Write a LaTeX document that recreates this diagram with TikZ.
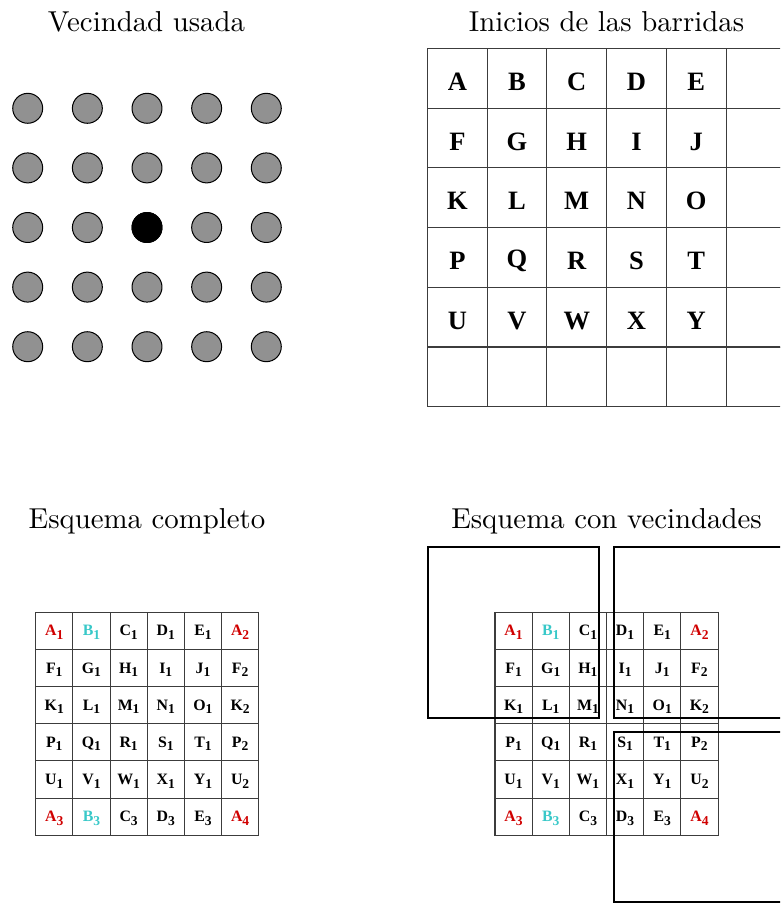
\documentclass[tikz,border=0pt]{standalone}
\usepackage{fontspec}
\newfontfamily\gridfont{Liberation Serif}
\definecolor{dotgray}{RGB}{145,145,145}
\definecolor{lred}{RGB}{208,0,0}
\definecolor{lcyan}{RGB}{56,200,200}
\definecolor{gline}{RGB}{60,60,60}
\newcommand\lsub[2]{#1\raisebox{-1.2pt}{\fontsize{4.7}{4.7}\selectfont #2}}
\tikzset{
  title/.style={anchor=base,inner sep=0pt,font=\fontsize{10}{12}\selectfont},
  dot/.style={circle,draw=black,line width=0.35pt,fill=dotgray,minimum size=10.4pt,inner sep=0pt},
  bigcell/.style={rectangle,draw=gline,line width=0.35pt,minimum size=20.72pt,inner sep=0pt},
  bigletter/.style={inner sep=0pt,font=\gridfont\bfseries\fontsize{9.2}{10}\selectfont},
  smallcell/.style={rectangle,draw=gline,line width=0.35pt,minimum size=12.9pt,inner sep=0pt,
    text height=3.5pt,text depth=0pt,font=\gridfont\bfseries\fontsize{5.5}{6}\selectfont},
  thickbox/.style={draw=black,line width=0.8pt}
}
\newcommand\drawsmallgrid[2]{%
  \foreach \t/\s/\c [count=\k from 0] in {
    A/1/lred,B/1/lcyan,C/1/black,D/1/black,E/1/black,A/2/lred,
    F/1/black,G/1/black,H/1/black,I/1/black,J/1/black,F/2/black,
    K/1/black,L/1/black,M/1/black,N/1/black,O/1/black,K/2/black,
    P/1/black,Q/1/black,R/1/black,S/1/black,T/1/black,P/2/black,
    U/1/black,V/1/black,W/1/black,X/1/black,Y/1/black,U/2/black,
    A/3/lred,B/3/lcyan,C/3/black,D/3/black,E/3/black,A/4/lred}{
    \pgfmathtruncatemacro\cc{mod(\k,6)}
    \pgfmathtruncatemacro\rr{div(\k,6)}
    \node[smallcell,text=\c] (#1-\cc-\rr) at ({#2+37.17*(\cc+0.5)},{612.3+37.17*(\rr+0.5)}) {\lsub{\t}{\s}};
  }}
\begin{document}
\begin{tikzpicture}[x=0.347pt,y=-0.347pt]
\useasboundingbox (0,0) rectangle (780,903);
\clip (0,0) rectangle (780,903);
% titles
\node[title] (t1) at (146.5,31.5) {Vecindad usada};
\node[title] (t2) at (606.5,31.5) {Inicios de las barridas};
\node[title] (t3) at (147,528.5) {Esquema completo};
\node[title] (t4) at (606.5,528.5) {Esquema con vecindades};
% neighbourhood dots
\foreach \i in {0,...,4}{
  \foreach \j in {0,...,4}{
    \node[dot] (c-\i-\j) at ({27.7+59.65*\i},{108.3+59.6*\j}) {};
  }}
\node[dot,fill=black] (center) at (c-2-2) {};
% starting grid
\foreach \i in {0,...,5}{
  \foreach \j in {0,...,5}{
    \node[bigcell] (g-\i-\j) at ({427.5+59.7*(\i+0.5)},{48.5+59.7*(\j+0.5)}) {};
  }}
\foreach \l [count=\k from 0] in {A,B,C,D,E,F,G,H,I,J,K,L,M,N,O,P,Q,R,S,T,U,V,W,X,Y}{
  \pgfmathtruncatemacro\cc{mod(\k,5)}
  \pgfmathtruncatemacro\rr{div(\k,5)}
  \node[bigletter] (l-\k) at ([yshift=-1.2pt]g-\cc-\rr) {\l};
}
% complete schemes
\drawsmallgrid{s}{35.7}
\drawsmallgrid{v}{495}
% neighbourhood windows
\draw[thickbox] (428,547.3) rectangle (599.3,717.7);
\draw[thickbox] (614.3,547.3) rectangle (785.6,717.7);
\draw[thickbox] (614.3,732.3) rectangle (785.6,901.7);
\end{tikzpicture}
\end{document}
